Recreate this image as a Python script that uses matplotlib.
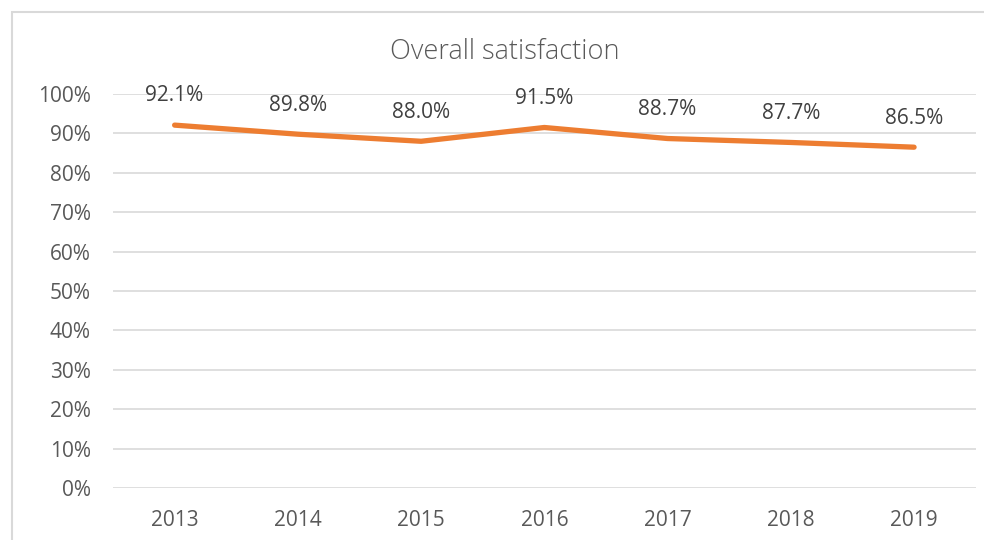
import matplotlib
matplotlib.use("Agg")
import matplotlib.pyplot as plt
from matplotlib.patches import Rectangle
from matplotlib.ticker import FuncFormatter

years = ["2013", "2014", "2015", "2016", "2017", "2018", "2019"]
satisfaction = [92.1, 89.8, 88.0, 91.5, 88.7, 87.7, 86.5]
yticks = [0, 10, 20, 30, 40, 50, 60, 70, 80, 90, 100]

plt.rcParams['font.family'] = ['Open Sans', 'DejaVu Sans']
text_color = "#595959"

fig = plt.figure(figsize=(9.84, 5.4), dpi=100)
ax = fig.add_axes([113 / 984, 1 - 488 / 540, (975.7 - 113) / 984, (488 - 94) / 540])

x = list(range(len(years)))
ax.plot(x, satisfaction, color="#ED7D31", linewidth=3.8, solid_capstyle="round",
        solid_joinstyle="round", zorder=3)
for xi, v in zip(x, satisfaction):
    ax.annotate(f"{v:.1f}%", (xi, v), xytext=(0, 21), textcoords="offset points",
                ha="center", va="center", fontsize=15, color="#404040")

ax.set_xlim(-0.5, len(years) - 0.5)
ax.set_ylim(0, 100)
ax.set_yticks(yticks)
ax.yaxis.set_major_formatter(FuncFormatter(lambda v, p: f"{v:.0f}%"))
ax.set_xticks(x)
ax.set_xticklabels(years)
ax.grid(axis="y", color="#D9D9D9", linewidth=1.2)
ax.set_axisbelow(True)
for s in ax.spines.values():
    s.set_visible(False)
ax.tick_params(axis="both", length=0, labelsize=15, labelcolor=text_color)
ax.tick_params(axis="y", pad=16)
ax.tick_params(axis="x", pad=16)

fig.text(505 / 984, 1 - 52 / 540, "Overall satisfaction", ha="center", va="center",
         fontsize=19.5, fontweight="light", color=text_color)

fig.patches.append(Rectangle((11.5 / 984, -0.1), 1.2, 1 - 12 / 540 + 0.1,
                             transform=fig.transFigure, fill=False,
                             edgecolor="#D9D9D9", linewidth=1.5))

fig.savefig("out.png", dpi=100)
